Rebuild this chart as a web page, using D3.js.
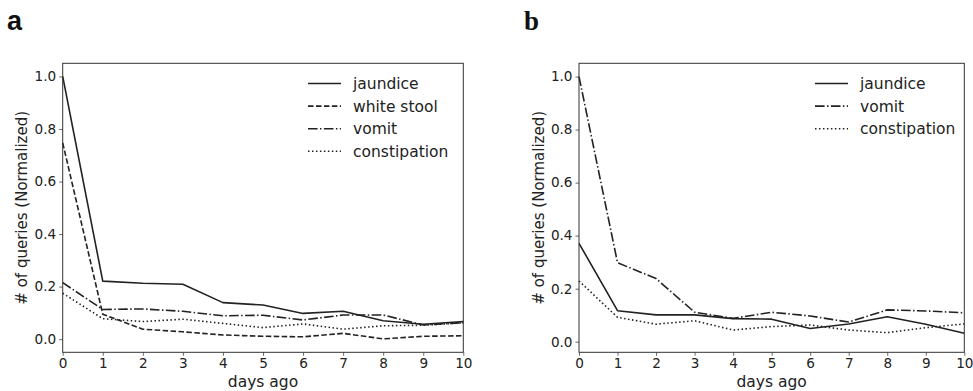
<!DOCTYPE html>
<html><head><meta charset="utf-8">
<script src="https://cdn.jsdelivr.net/npm/d3@7"></script>
<style>body{margin:0;background:#fff}svg{display:block}</style>
</head><body>
<svg id="c" width="973" height="391"></svg>
<script>
const days = [0,1,2,3,4,5,6,7,8,9,10];
const yTicks = [0.0,0.2,0.4,0.6,0.8,1.0];
const xTicks = [0,1,2,3,4,5,6,7,8,9,10];

const aJaundice     = [1.0,0.221,0.213,0.209,0.139,0.130,0.098,0.106,0.070,0.057,0.067];
const aWhiteStool   = [0.747,0.095,0.038,0.028,0.016,0.011,0.009,0.022,0.001,0.011,0.013];
const aVomit        = [0.215,0.113,0.115,0.106,0.089,0.091,0.073,0.092,0.092,0.054,0.063];
const aConstipation = [0.175,0.078,0.067,0.076,0.060,0.044,0.058,0.038,0.051,0.053,0.062];

const bJaundice     = [0.371,0.117,0.101,0.101,0.087,0.085,0.050,0.067,0.094,0.066,0.032];
const bVomit        = [1.0,0.298,0.238,0.111,0.088,0.111,0.097,0.074,0.120,0.116,0.109];
const bConstipation = [0.229,0.092,0.066,0.079,0.044,0.057,0.063,0.044,0.034,0.053,0.067];

const styles = {
  jaundice: null,
  "white stool": "5.55,2.4",
  vomit: "9.6,2.4,1.5,2.4",
  constipation: "1.5,2.475"
};

const svg = d3.select("#c");
const ink = "#222";
const font = "DejaVu Sans, sans-serif";

function panel(cfg){
  const g = svg.append("g");
  const x = d3.scaleLinear().domain([0,10]).range([cfg.left, cfg.right]);
  const y = d3.scaleLinear().domain(cfg.ydom).range([cfg.bottom, cfg.top]);

  const line = d3.line().x((d,i)=>x(days[i])).y(d=>y(d));
  cfg.series.forEach(s=>{
    g.append("path").attr("d", line(s.values))
      .attr("fill","none").attr("stroke",ink).attr("stroke-width",1.6)
      .attr("stroke-dasharray", styles[s.name])
      .attr("stroke-linejoin","round");
  });

  const xa = g.append("g").attr("transform",`translate(0,${cfg.bottom})`)
    .call(d3.axisBottom(x).tickValues(xTicks).tickFormat(d3.format("d")).tickSize(3.5).tickPadding(3));
  const ya = g.append("g").attr("transform",`translate(${cfg.left},0)`)
    .call(d3.axisLeft(y).tickValues(yTicks).tickFormat(d3.format(".1f")).tickSize(3.5).tickPadding(3));
  [xa,ya].forEach(a=>{
    a.select(".domain").remove();
    a.selectAll("line").attr("stroke","#444").attr("stroke-width",0.8);
    a.selectAll("text").attr("fill",ink).style("font-family",font).style("font-size","13.6px");
  });

  g.append("rect").attr("x",cfg.left).attr("y",cfg.top)
    .attr("width",cfg.right-cfg.left).attr("height",cfg.bottom-cfg.top)
    .attr("fill","none").attr("stroke","#333").attr("stroke-width",1);

  g.append("text").attr("x",(cfg.left+cfg.right)/2).attr("y",386.5)
    .attr("text-anchor","middle").attr("fill",ink)
    .style("font-family",font).style("font-size","15.5px").text("days ago");
  const cy = (cfg.top+cfg.bottom)/2;
  g.append("text").attr("transform",`translate(${cfg.ylabX},${cy}) rotate(-90)`)
    .attr("text-anchor","middle").attr("fill",ink)
    .style("font-family",font).style("font-size","15px").text("# of queries (Normalized)");

  cfg.series.forEach((s,i)=>{
    const ly = 83.5 + i*22.6;
    g.append("line").attr("x1",cfg.legX).attr("x2",cfg.legX+33)
      .attr("y1",ly).attr("y2",ly)
      .attr("stroke",ink).attr("stroke-width",1.6)
      .attr("stroke-dasharray", styles[s.name]);
    g.append("text").attr("x",cfg.legX+45).attr("y",ly+5.5)
      .attr("fill",ink).style("font-family",font).style("font-size","15.5px").text(s.name);
  });

  g.append("text").attr("x",cfg.letterX).attr("y",29.5)
    .attr("fill","#111").style("font-family",cfg.letterFont)
    .style("font-weight","bold").style("font-size","27px").text(cfg.letter);
}

panel({
  left:62.7, right:463.3, top:63.3, bottom:352.3, ydom:[-0.05,1.05],
  ylabX:27, legX:308, letter:"a", letterX:7, letterFont:"Liberation Sans, Arial, sans-serif",
  series:[
    {name:"jaundice", values:aJaundice},
    {name:"white stool", values:aWhiteStool},
    {name:"vomit", values:aVomit},
    {name:"constipation", values:aConstipation}
  ]
});
panel({
  left:579, right:964.3, top:63.3, bottom:352.3, ydom:[-0.04,1.05],
  ylabX:544, legX:815, letter:"b", letterX:524, letterFont:"Liberation Serif, Times New Roman, serif",
  series:[
    {name:"jaundice", values:bJaundice},
    {name:"vomit", values:bVomit},
    {name:"constipation", values:bConstipation}
  ]
});
</script>
</body></html>
